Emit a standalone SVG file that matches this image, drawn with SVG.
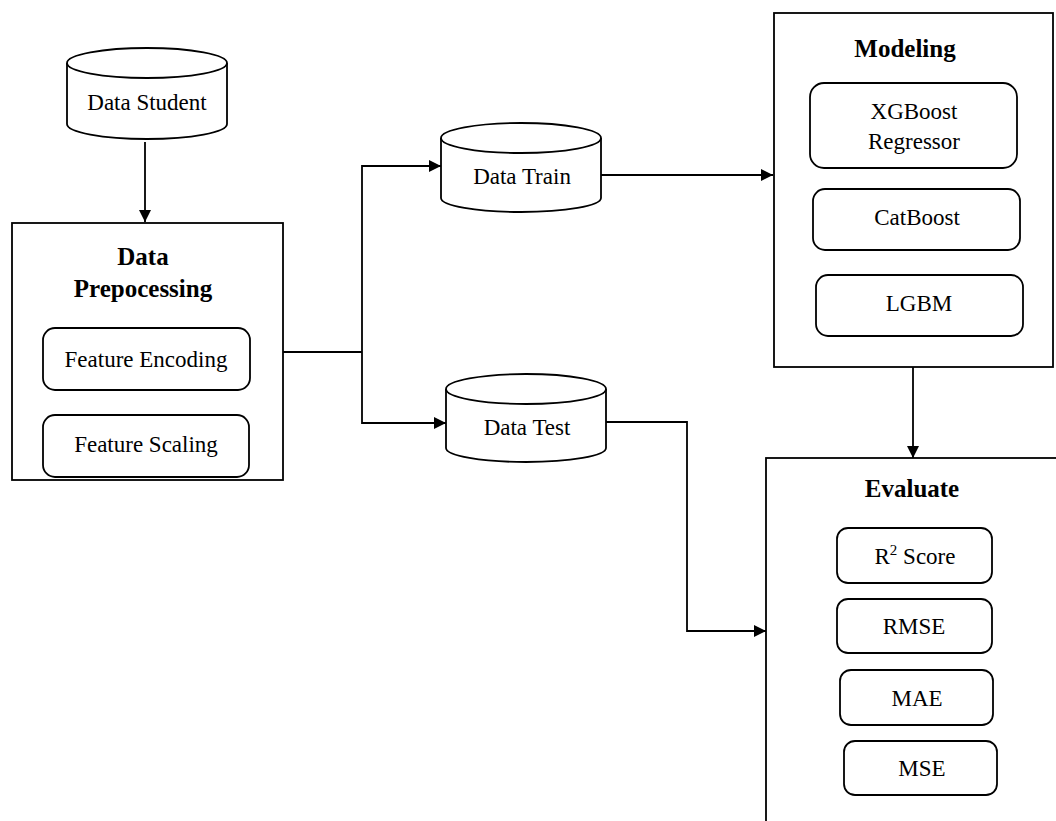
<svg xmlns="http://www.w3.org/2000/svg" width="1056" height="821" viewBox="0 0 1056 821">
<style>
.s{fill:#fff;stroke:#000;stroke-width:1.8}
.t{font-family:"Liberation Serif","Times New Roman",serif;font-size:23px;fill:#000;text-anchor:middle}
.h{font-family:"Liberation Serif","Times New Roman",serif;font-size:25px;font-weight:bold;fill:#000;text-anchor:middle}
.c{fill:none;stroke:#000;stroke-width:1.8}
</style>
<defs>
<marker id="arr" viewBox="0 0 12 12" refX="12" refY="6" markerWidth="12" markerHeight="12" markerUnits="userSpaceOnUse" orient="auto">
<path d="M0,0 L12,6 L0,12 z" fill="#000"/>
</marker>
</defs>
<rect width="1056" height="821" fill="#fff"/>

<g id="data-student">
<path class="s" d="M67,63 L67,124 A80,15 0 0 0 227,124 L227,63"/>
<ellipse class="s" cx="147" cy="63" rx="80" ry="15"/>
<text class="t" x="147" y="110">Data Student</text>
</g>

<g id="data-preprocessing">
<rect class="s" x="12" y="223" width="271" height="257"/>
<text class="h" x="143" y="265">Data</text>
<text class="h" x="143" y="297">Prepocessing</text>
<g id="feature-encoding">
<rect class="s" x="43" y="328" width="207" height="62" rx="12"/>
<text class="t" x="146" y="367">Feature Encoding</text>
</g>
<g id="feature-scaling">
<rect class="s" x="43" y="415" width="206" height="62" rx="12"/>
<text class="t" x="146" y="452">Feature Scaling</text>
</g>
</g>

<g id="data-train">
<path class="s" d="M441,138 L441,198 A80,14 0 0 0 601,198 L601,138"/>
<ellipse class="s" cx="521" cy="138" rx="80" ry="15"/>
<text class="t" x="522" y="184">Data Train</text>
</g>

<g id="data-test">
<path class="s" d="M446,389 L446,448 A80,14 0 0 0 606,448 L606,389"/>
<ellipse class="s" cx="526" cy="389" rx="80" ry="15"/>
<text class="t" x="527" y="435">Data Test</text>
</g>

<g id="modeling">
<rect class="s" x="774" y="13" width="279" height="354"/>
<text class="h" x="905" y="57">Modeling</text>
<g id="xgboost">
<rect class="s" x="810" y="83" width="207" height="85" rx="14"/>
<text class="t" x="914" y="119">XGBoost</text>
<text class="t" x="914" y="149">Regressor</text>
</g>
<g id="catboost">
<rect class="s" x="813" y="189" width="207" height="61" rx="12"/>
<text class="t" x="917" y="225">CatBoost</text>
</g>
<g id="lgbm">
<rect class="s" x="816" y="275" width="207" height="61" rx="12"/>
<text class="t" x="919" y="311">LGBM</text>
</g>
</g>

<g id="evaluate">
<rect class="s" x="766" y="458" width="320" height="400"/>
<text class="h" x="912" y="497">Evaluate</text>
<g id="r2">
<rect class="s" x="837" y="528" width="155" height="55" rx="11"/>
<text class="t" x="915" y="564">R<tspan font-size="15" dy="-9">2</tspan><tspan dy="9"> Score</tspan></text>
</g>
<g id="rmse">
<rect class="s" x="837" y="599" width="155" height="54" rx="11"/>
<text class="t" x="914" y="634">RMSE</text>
</g>
<g id="mae">
<rect class="s" x="840" y="670" width="153" height="55" rx="11"/>
<text class="t" x="917" y="706">MAE</text>
</g>
<g id="mse">
<rect class="s" x="844" y="741" width="153" height="54" rx="11"/>
<text class="t" x="922" y="776">MSE</text>
</g>
</g>

<g id="connectors">
<path class="c" d="M145,142 L145,222" marker-end="url(#arr)"/>
<path class="c" stroke-width="2.4" d="M283,352 L362,352"/>
<path class="c" d="M362,352 L362,166 L441,166" marker-end="url(#arr)"/>
<path class="c" d="M362,352 L362,423 L446,423" marker-end="url(#arr)"/>
<path class="c" d="M601,175 L773,175" marker-end="url(#arr)"/>
<path class="c" d="M913,367 L913,458" marker-end="url(#arr)"/>
<path class="c" d="M606,422 L687,422 L687,631 L766,631" marker-end="url(#arr)"/>
</g>
</svg>
